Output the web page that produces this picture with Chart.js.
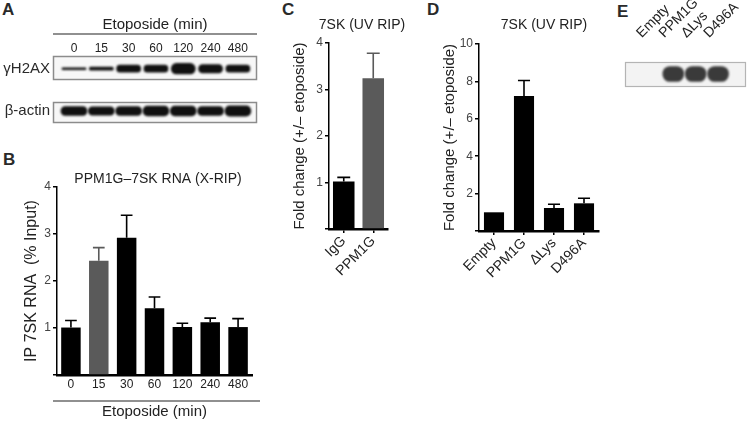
<!DOCTYPE html>
<html><head><meta charset="utf-8">
<script src="https://cdn.jsdelivr.net/npm/chart.js@4.4.1/dist/chart.umd.min.js"></script>
<style>
html,body{margin:0;padding:0;background:#fff;}
body{width:750px;height:421px;position:relative;overflow:hidden;font-family:'Liberation Sans',Arial,sans-serif;}
.box{position:absolute;}
.lbl{position:absolute;font-weight:bold;font-size:17px;line-height:17px;color:#2a2a2a;}
</style></head><body>
<div class="lbl" style="left:2px;top:1px">A</div>
<div class="lbl" style="left:3px;top:151px">B</div>
<div class="lbl" style="left:282px;top:1px">C</div>
<div class="lbl" style="left:427px;top:1px">D</div>
<div class="lbl" style="left:617px;top:3px">E</div>

<div class="box" style="left:0;top:0;width:265px;height:92px"><canvas id="a1"></canvas></div>
<div class="box" style="left:0;top:90px;width:265px;height:45px"><canvas id="a2"></canvas></div>
<div class="box" style="left:0;top:140px;width:265px;height:281px"><canvas id="b"></canvas></div>
<div class="box" style="left:280px;top:0;width:140px;height:300px"><canvas id="c"></canvas></div>
<div class="box" style="left:440px;top:0;width:170px;height:300px"><canvas id="d"></canvas></div>
<div class="box" style="left:610px;top:0;width:140px;height:95px"><canvas id="e"></canvas></div>

<script>
// ---------- data ----------
const blotLanes = ['0', '15', '30', '60', '120', '240', '480'];
const h2axBand = [2.5, 4.5, 10, 10, 15, 12, 10];
const actinBand = [15, 14, 15, 16, 16, 15, 17];
const ripTimes = ['0', '15', '30', '60', '120', '240', '480'];
const ripMean = [1.01, 2.43, 2.92, 1.42, 1.02, 1.12, 1.02];
const ripSem = [0.15, 0.28, 0.48, 0.24, 0.08, 0.09, 0.18];
const cLabels = ['IgG', 'PPM1G'];
const cMean = [1.02, 3.24];
const cSem = [0.09, 0.54];
const dLabels = ['Empty', 'PPM1G', '\u0394Lys', 'D496A'];
const dMean = [1.0, 7.22, 1.23, 1.48];
const dSem = [0, 0.83, 0.2, 0.27];
const eLanes = ['Empty', 'PPM1G', '\u0394Lys', 'D496A'];
const eBand = [0, 15, 15, 15];

// ---------- setup ----------
const FONT = "'Liberation Sans', Arial, sans-serif";
Chart.defaults.font.family = FONT;
Chart.defaults.color = '#333';
Chart.defaults.animation = false;
Chart.defaults.plugins.legend.display = false;
Chart.defaults.plugins.tooltip.enabled = false;
Chart.defaults.maintainAspectRatio = false;
Chart.defaults.devicePixelRatio = 1;

const errorBars = {
  id: 'errorBars',
  afterDatasetsDraw(chart) {
    const ds = chart.data.datasets[0];
    if (!ds.sem) return;
    const meta = chart.getDatasetMeta(0);
    const ys = chart.scales.y;
    const ctx = chart.ctx;
    ctx.save();
    meta.data.forEach((bar, i) => {
      const e = ds.sem[i];
      if (!e) return;
      const yTop = ys.getPixelForValue(ds.data[i] + e);
      const col = Array.isArray(ds.backgroundColor) ? ds.backgroundColor[i] : ds.backgroundColor;
      ctx.strokeStyle = col;
      ctx.lineWidth = 1.6;
      const half = bar.width * 0.3;
      ctx.beginPath();
      ctx.moveTo(bar.x, bar.y);
      ctx.lineTo(bar.x, yTop);
      ctx.moveTo(bar.x - half, yTop);
      ctx.lineTo(bar.x + half, yTop);
      ctx.stroke();
    });
    ctx.restore();
  }
};

const panelTitle = {
  id: 'panelTitle',
  afterDraw(chart, args, o) {
    if (!o || !o.text) return;
    const a = chart.chartArea;
    const ctx = chart.ctx;
    ctx.save();
    ctx.font = o.size + 'px ' + FONT;
    ctx.fillStyle = '#222';
    ctx.textAlign = 'center';
    ctx.textBaseline = 'middle';
    ctx.fillText(o.text, (a.left + a.right) / 2 + o.dx, a.top - o.above);
    ctx.restore();
  }
};

const blotFrame = {
  id: 'blotFrame',
  beforeDatasetsDraw(chart, args, o) {
    const {ctx, chartArea: a} = chart;
    ctx.save();
    ctx.fillStyle = o.fill;
    ctx.fillRect(a.left, a.top, a.width, a.height);
    ctx.restore();
    ctx.save();
    ctx.filter = 'blur(' + o.blur + 'px)';
  },
  afterDatasetsDraw(chart, args, o) {
    const {ctx, chartArea: a} = chart;
    ctx.restore();
    ctx.save();
    ctx.strokeStyle = o.stroke;
    ctx.lineWidth = o.lineWidth;
    ctx.strokeRect(a.left + 0.5, a.top + 0.5, a.width - 1, a.height - 1);
    ctx.restore();
  }
};

const bracketLine = {
  id: 'bracketLine',
  afterDraw(chart, args, o) {
    if (!o || !o.scale) return;
    const s = chart.scales[o.scale];
    const t = s.options.title;
    const lh = Chart.helpers.toFont(t.font).lineHeight;
    const pad = Chart.helpers.toPadding(t.padding);
    const y = s.position === 'top' ? s.top + pad.top + lh + o.gap : s.bottom - pad.bottom - lh - o.gap;
    const a = chart.chartArea;
    const ctx = chart.ctx;
    ctx.save();
    ctx.strokeStyle = '#222';
    ctx.lineWidth = 1.2;
    ctx.beginPath();
    ctx.moveTo(a.left - o.extendLeft, y);
    ctx.lineTo(a.right + o.extendRight, y);
    ctx.stroke();
    ctx.restore();
  }
};

const noPad = s => { s.paddingLeft = 0; s.paddingRight = 0; s.paddingTop = 0; s.paddingBottom = 0; };

function bandData(arr) {
  return arr.map((t, i) => ({x: i, y: t ? [-t / 2, t / 2] : null}));
}

// ---------- A: gamma H2AX row ----------
new Chart(document.getElementById('a1'), {
  type: 'bar',
  data: {datasets: [{data: bandData(h2axBand), backgroundColor: '#101010', borderRadius: 50, borderSkipped: false, barThickness: 24}]},
  options: {
    layout: {padding: {left: 0, top: 0, right: 8, bottom: 2}},
    scales: {
      x: {
        type: 'linear', position: 'top', offset: false, min: -0.77, max: 6.7,
        afterBuildTicks: s => { s.ticks = blotLanes.map((_, i) => ({value: i})); },
        afterFit: s => { s.height = 56; noPad(s); },
        grid: {display: false, drawTicks: false}, border: {display: false},
        ticks: {autoSkip: false, maxRotation: 0, padding: 0, font: {size: 12}, color: '#222', callback: (v, i) => blotLanes[i]},
        title: {display: true, text: 'Etoposide (min)', font: {size: 15}, color: '#222', padding: {top: 16, bottom: 0}}
      },
      y: {
        min: -16, max: 18,
        afterBuildTicks: s => { s.ticks = [{value: 0}]; },
        afterFit: s => { s.width = 53; },
        grid: {display: false, drawTicks: false}, border: {display: false},
        ticks: {padding: 3, font: {size: 15}, color: '#2a2a2a', callback: () => '\u03b3H2AX'}
      }
    },
    plugins: {
      blotFrame: {fill: '#f7f7f7', stroke: '#8c8c8c', lineWidth: 1.5, blur: 1},
      bracketLine: {scale: 'x', gap: 0, extendLeft: 0, extendRight: 0}
    }
  },
  plugins: [blotFrame, bracketLine]
});

// ---------- A: beta-actin row ----------
new Chart(document.getElementById('a2'), {
  type: 'bar',
  data: {datasets: [{data: bandData(actinBand), backgroundColor: '#101010', borderRadius: 50, borderSkipped: false, barThickness: 26}]},
  options: {
    layout: {padding: {left: 0, top: 3, right: 8, bottom: 7}},
    scales: {
      x: {type: 'linear', display: false, offset: false, min: -0.77, max: 6.7},
      y: {
        min: -20, max: 15,
        afterBuildTicks: s => { s.ticks = [{value: 0}]; },
        afterFit: s => { s.width = 53; },
        grid: {display: false, drawTicks: false}, border: {display: false},
        ticks: {padding: 3, font: {size: 15}, color: '#2a2a2a', callback: () => '\u03b2-actin'}
      }
    },
    plugins: {blotFrame: {fill: '#f7f7f7', stroke: '#8c8c8c', lineWidth: 1.5, blur: 1}}
  },
  plugins: [blotFrame]
});

// ---------- B ----------
new Chart(document.getElementById('b'), {
  type: 'bar',
  data: {
    labels: ripTimes,
    datasets: [{data: ripMean, sem: ripSem, backgroundColor: ripTimes.map((_, i) => i === 1 ? '#5a5a5a' : '#000'), barPercentage: 0.7, categoryPercentage: 1}]
  },
  options: {
    layout: {padding: {left: 0, right: 13, top: 47, bottom: 0}},
    scales: {
      x: {
        grid: {display: false, drawTicks: false}, border: {display: true, color: '#000', width: 2.5},
        ticks: {padding: 2.8, font: {size: 12}, color: '#222', maxRotation: 0, autoSkip: false},
        title: {display: true, text: 'Etoposide (min)', font: {size: 15}, color: '#222', padding: {top: 0, bottom: 0}},
        afterFit: s => { s.height = 46; noPad(s); }
      },
      y: {
        min: 0, max: 4,
        ticks: {stepSize: 1, padding: 2, font: {size: 12}, color: '#444', callback: v => v === 0 ? '' : v},
        grid: {display: true, drawOnChartArea: false, drawTicks: true, tickLength: 4, color: '#000', lineWidth: 1.5},
        border: {display: true, color: '#000', width: 1.5},
        title: {display: true, text: 'IP 7SK RNA  (% Input)', font: {size: 16}, color: '#222', padding: {top: 22, bottom: 0}},
        afterFit: s => { s.width = 57; }
      }
    },
    plugins: {
      bracketLine: {scale: 'x', gap: 2, extendLeft: 4, extendRight: 8},
      panelTitle: {text: 'PPM1G\u20137SK RNA (X-RIP)', size: 14, dx: 3.5, above: 8}
    }
  },
  plugins: [errorBars, bracketLine, panelTitle]
});

// ---------- C / D helper ----------
function foldChart(id, labels, mean, sem, colors, opt) {
  return new Chart(document.getElementById(id), {
    type: 'bar',
    data: {labels: labels, datasets: [{data: mean, sem: sem, backgroundColor: colors, barPercentage: opt.barPct, categoryPercentage: 1}]},
    options: {
      layout: {padding: {left: 0, right: opt.padRight, top: opt.top, bottom: 0}},
      scales: {
        x: {
          grid: {display: true, offset: false, drawOnChartArea: false, drawTicks: true, tickLength: 4, color: '#000', lineWidth: 1.5},
          border: {display: true, color: '#000', width: 2.5},
          ticks: {padding: 0, font: {size: 14}, color: '#222', minRotation: 45, maxRotation: 45, autoSkip: false},
          afterFit: s => { s.height = opt.xHeight; noPad(s); }
        },
        y: {
          min: 0, max: opt.yMax,
          ticks: {stepSize: opt.step, padding: 2, font: {size: 12}, color: '#444', callback: v => v === 0 ? '' : v},
          grid: {display: true, drawOnChartArea: false, drawTicks: true, tickLength: 4, color: '#000', lineWidth: 1.5},
          border: {display: true, color: '#000', width: 1.5},
          title: {display: true, text: 'Fold change (+/\u2013 etoposide)', font: {size: 15}, color: '#222', padding: {top: opt.yTitlePad, bottom: 0}},
          afterFit: s => { s.width = opt.yWidth; }
        }
      },
      plugins: {panelTitle: {text: '7SK (UV RIP)', size: 14, dx: opt.titleDx, above: opt.titleAbove}}
    },
    plugins: [errorBars, panelTitle]
  });
}

foldChart('c', cLabels, cMean, cSem, ['#000', '#5a5a5a'],
  {barPct: 0.73, padRight: 32, top: 43, xHeight: 71, yMax: 4, step: 1, yTitlePad: 11, yWidth: 49, titleDx: 3.5, titleAbove: 18});
foldChart('d', dLabels, dMean, dSem, '#000',
  {barPct: 0.67, padRight: 11, top: 44, xHeight: 69, yMax: 10, step: 2, yTitlePad: 1, yWidth: 39, titleDx: 5, titleAbove: 19});

// ---------- E ----------
new Chart(document.getElementById('e'), {
  type: 'bar',
  data: {datasets: [{data: bandData(eBand), backgroundColor: '#3a3a3a', borderRadius: 50, borderSkipped: false, barThickness: 21}]},
  options: {
    layout: {padding: {left: 15, top: 0, right: 4, bottom: 8}},
    scales: {
      x: {
        type: 'linear', position: 'top', offset: false, min: -1.16, max: 4.25,
        afterBuildTicks: s => { s.ticks = eLanes.map((_, i) => ({value: i})); },
        afterFit: s => { s.height = 62; noPad(s); },
        grid: {display: false, drawTicks: false}, border: {display: false},
        ticks: {autoSkip: false, minRotation: 45, maxRotation: 45, padding: 20.6, font: {size: 14}, color: '#222', callback: (v, i) => eLanes[i]}
      },
      y: {display: false, min: -13, max: 12}
    },
    plugins: {blotFrame: {fill: '#f3f3f3', stroke: '#b4b4b4', lineWidth: 1.2, blur: 1.2}}
  },
  plugins: [blotFrame]
});
</script>
</body></html>
